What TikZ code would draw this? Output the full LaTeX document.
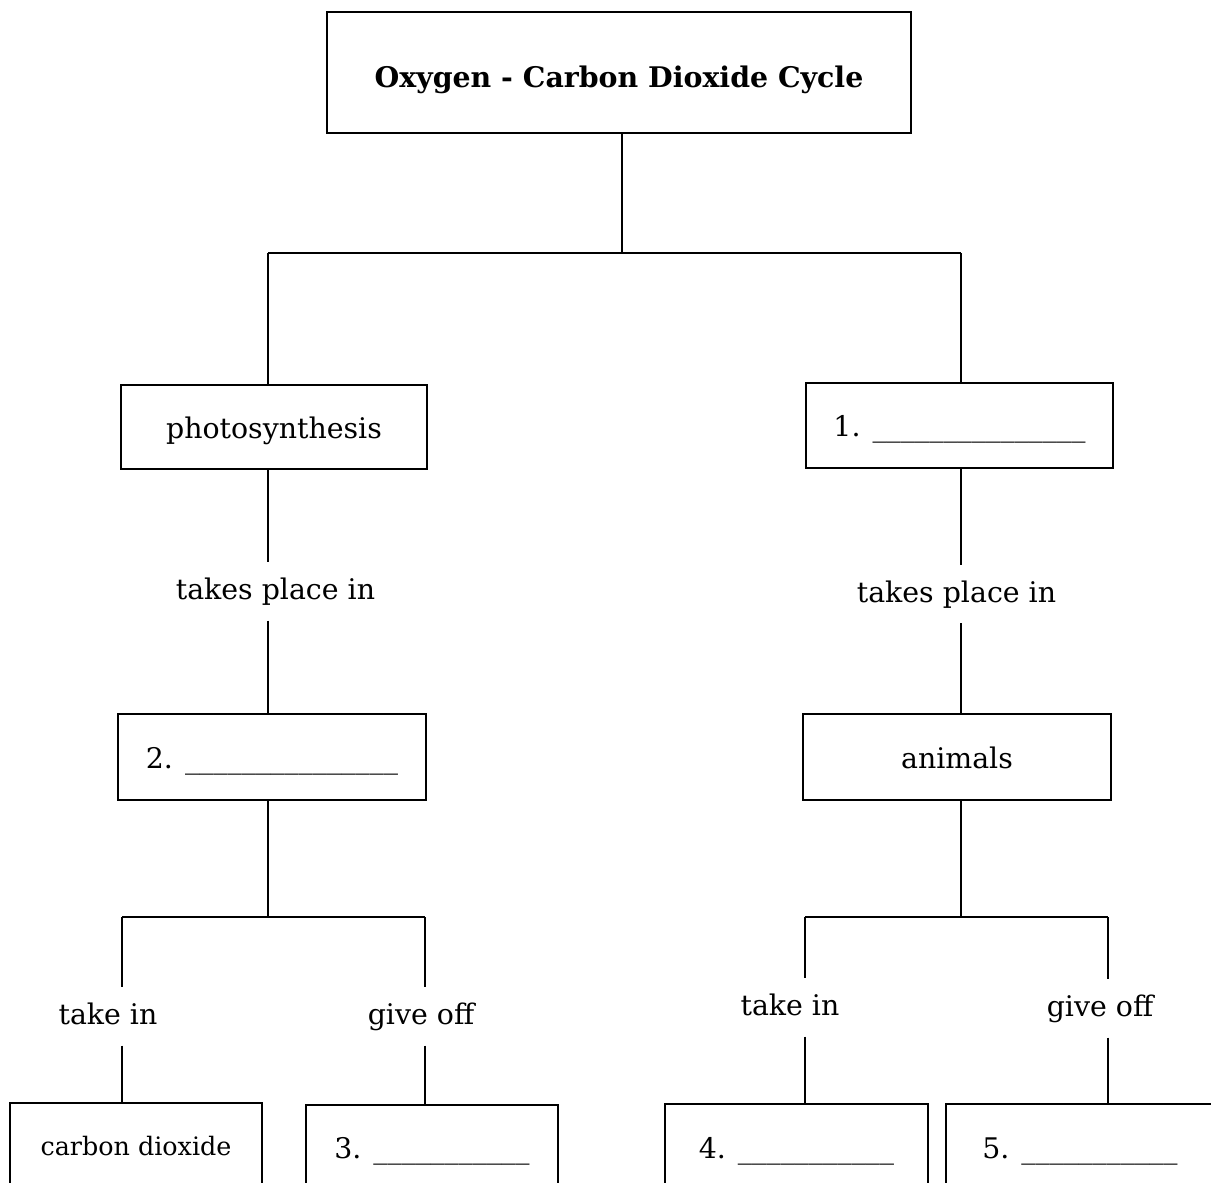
\documentclass[tikz,border=0pt]{standalone}
\usepackage{fontspec}
\setmainfont{DejaVu Serif}
\usepackage{tikz}
\usetikzlibrary{positioning}
\newcommand{\titlefont}{\fontsize{14.2}{17}\bfseries\selectfont}
\newcommand{\smallfont}{\fontsize{12.7}{15}\selectfont}
\tikzstyle{box} = [draw, line width=1pt, inner sep=0pt, text height=11pt, text depth=0pt, font=\fontsize{14.2}{17}\selectfont]
\tikzstyle{link} = [inner sep=0pt, text height=8pt, text depth=0pt, minimum height=28.5pt, font=\fontsize{14.2}{17}\selectfont]

\begin{document}
\begin{tikzpicture}[x=0.5pt, y=-0.5pt, line width=0.65pt]
    \useasboundingbox (0,0) rectangle (1211,1183);
    \clip (0,0) rectangle (1211,1183);
    % boxes
    \node[box, text height=14.8pt, minimum width=292pt, minimum height=60.5pt] (title) at (619,72.5) {\titlefont Oxygen - Carbon Dioxide Cycle};
    \node[box, minimum width=153pt, minimum height=42pt] (photo) at (274,427) {photosynthesis};
    \node[box, minimum width=153.5pt, minimum height=42.5pt] (one) at (959.5,425.5) {1. \_\_\_\_\_\_\_\_\_\_\_\_\_\_\_};
    \node[box, minimum width=154pt, minimum height=43pt] (two) at (272,757) {2. \_\_\_\_\_\_\_\_\_\_\_\_\_\_\_};
    \node[box, minimum width=154pt, minimum height=43pt] (animals) at (957,757) {animals};
    \node[box, text height=9pt, minimum width=126pt, minimum height=43pt] (cd) at (136,1146) {\smallfont carbon dioxide};
    \node[box, minimum width=126pt, minimum height=42pt] (three) at (432,1147) {3. \_\_\_\_\_\_\_\_\_\_\_};
    \node[box, minimum width=131.5pt, minimum height=43pt] (four) at (796.5,1147) {4. \_\_\_\_\_\_\_\_\_\_\_};
    \node[box, minimum width=134pt, minimum height=43pt] (five) at (1080,1147) {5. \_\_\_\_\_\_\_\_\_\_\_};
    % labels on the lines
    \node[link] (tpl) at (275.5,591.5) {takes place in};
    \node[link] (tpr) at (956.5,594) {takes place in};
    \node[link] (tinl) at (108,1016.5) {take in};
    \node[link] (gofl) at (421,1016.5) {give off};
    \node[link] (tinr) at (790,1007.5) {take in};
    \node[link] (gofr) at (1100,1008.5) {give off};
    % junctions
    \coordinate (t) at (622,253);
    \coordinate (l) at (268,253);
    \coordinate (r) at (961,253);
    \coordinate (lb) at (268,917);
    \coordinate (rb) at (961,917);
    \coordinate (lbl) at (122,917);
    \coordinate (lbr) at (425,917);
    \coordinate (rbl) at (805,917);
    \coordinate (rbr) at (1108,917);
    \draw (title.south -| t) -- (t);
    \draw (l) -- (r);
    \draw (l) -- (l |- photo.north);
    \draw (r) -- (r |- one.north);
    \draw (l |- photo.south) -- (l |- tpl.north);
    \draw (l |- tpl.south) -- (l |- two.north);
    \draw (r |- one.south) -- (r |- tpr.north);
    \draw (r |- tpr.south) -- (r |- animals.north);
    \draw (lb |- two.south) -- (lb);
    \draw (rb |- animals.south) -- (rb);
    \draw (lbl) -- (lbr);
    \draw (rbl) -- (rbr);
    \foreach \j/\w/\b in {lbl/tinl/cd, lbr/gofl/three, rbl/tinr/four, rbr/gofr/five} {
        \draw (\j) -- (\j |- \w.north);
        \draw (\j |- \w.south) -- (\j |- \b.north);
    }
\end{tikzpicture}
\end{document}
